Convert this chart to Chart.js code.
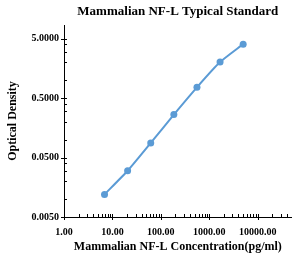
<!DOCTYPE html>
<html>
<head>
  <meta charset="UTF-8">
  <title>Mammalian NF-L Typical Standard</title>
  <script src="https://cdn.jsdelivr.net/npm/chart.js"></script>
  <style>
    body { margin: 0; padding: 0; background-color: white; }
    canvas { display: block; }
  </style>
</head>
<body>
  <canvas id="grafica" width="296" height="256"></canvas>

  <script type="text/javascript">
    // concentración (pg/ml) y densidad óptica
    const concentracion = [6.86, 20.58, 61.73, 185.19, 555.56, 1666.67, 5000];
    const densidad = [0.0120, 0.0300, 0.088, 0.264, 0.76, 2.02, 4.05];

    const xMayores = [1, 10, 100, 1000, 10000];
    const yMayores = [0.005, 0.05, 0.5, 5];
    const X_MIN = 1, X_MAX = 50000;
    const Y_MIN = 0.005, Y_MAX = 8.5;

    const azul = '#5B9BD5';
    const serif = "'Liberation Serif', 'Times New Roman', serif";

    function listaTicks(mayores, pasos, max) {
      const lista = [];
      mayores.forEach(m => {
        lista.push({ value: m, major: true });
        pasos.forEach(p => {
          const v = m * p;
          if (v < max && !mayores.includes(v)) lista.push({ value: v, major: false });
        });
      });
      return lista.sort((a, b) => a.value - b.value);
    }

    // marcas de los ejes: mayores cruzan el eje, menores hacia dentro
    const marcas = {
      id: 'marcas',
      afterDraw(chart) {
        const ctx = chart.ctx;
        const xs = chart.scales.x, ys = chart.scales.y;
        ctx.save();
        ctx.strokeStyle = '#000';
        ctx.lineWidth = 1;
        ctx.beginPath();
        xs.ticks.forEach(t => {
          const px = Math.round(xs.getPixelForValue(t.value)) + 0.5;
          const y0 = ys.bottom;
          if (t.major) { ctx.moveTo(px, y0 - 3); ctx.lineTo(px, y0 + 3); }
          else { ctx.moveTo(px, y0 - 3); ctx.lineTo(px, y0); }
        });
        ys.ticks.forEach(t => {
          const py = Math.round(ys.getPixelForValue(t.value)) + 0.5;
          const x0 = xs.left;
          if (t.major) { ctx.moveTo(x0 - 3, py); ctx.lineTo(x0 + 3, py); }
          else { ctx.moveTo(x0, py); ctx.lineTo(x0 + 3, py); }
        });
        ctx.stroke();
        ctx.restore();
      }
    };

    new Chart(document.getElementById('grafica').getContext('2d'), {
      type: 'line',
      data: {
        datasets: [{
          data: concentracion.map((c, i) => ({ x: c, y: densidad[i] })),
          borderColor: azul,
          backgroundColor: azul,
          borderWidth: 2,
          tension: 0.2,
          fill: false,
          pointRadius: 3.5,
          pointBorderWidth: 0,
          pointBackgroundColor: azul
        }]
      },
      options: {
        responsive: false,
        animation: false,
        layout: { padding: 0 },
        plugins: {
          legend: { display: false },
          tooltip: { enabled: false },
          title: {
            display: true,
            fullSize: false,
            text: 'Mammalian NF-L Typical Standard',
            color: '#000',
            font: { family: serif, size: 13, weight: 'bold' },
            padding: { top: 4, bottom: 5.4 }
          }
        },
        scales: {
          x: {
            type: 'logarithmic',
            min: X_MIN,
            max: X_MAX,
            grid: { display: false, drawTicks: false },
            border: { display: true, color: '#000', width: 1 },
            afterBuildTicks: s => { s.ticks = listaTicks(xMayores, [2, 3, 4, 5, 6, 7, 8, 9], X_MAX); },
            afterFit: s => { s.height = 39; },
            ticks: {
              autoSkip: false,
              maxRotation: 0,
              padding: 9,
              color: '#000',
              font: { family: serif, size: 10, weight: 'bold' },
              callback: v => xMayores.includes(v) ? v.toFixed(2) : ''
            },
            title: {
              display: true,
              text: 'Mammalian NF-L Concentration(pg/ml)',
              color: '#000',
              font: { family: serif, size: 12, weight: 'bold' },
              padding: { top: 0, bottom: 2 }
            }
          },
          y: {
            type: 'logarithmic',
            min: Y_MIN,
            max: Y_MAX,
            grid: { display: false, drawTicks: false },
            border: { display: true, color: '#000', width: 1 },
            afterBuildTicks: s => { s.ticks = listaTicks(yMayores, [2, 4, 6, 8], Y_MAX); },
            afterFit: s => { s.width = 64; },
            ticks: {
              autoSkip: false,
              padding: 5,
              color: '#000',
              font: { family: serif, size: 10, weight: 'bold' },
              callback: v => yMayores.includes(v) ? v.toFixed(4) : ''
            },
            title: {
              display: true,
              text: 'Optical Density',
              color: '#000',
              font: { family: serif, size: 12, weight: 'bold' },
              padding: { top: 6, bottom: 0 }
            }
          }
        }
      },
      plugins: [marcas]
    });
  </script>
</body>
</html>
